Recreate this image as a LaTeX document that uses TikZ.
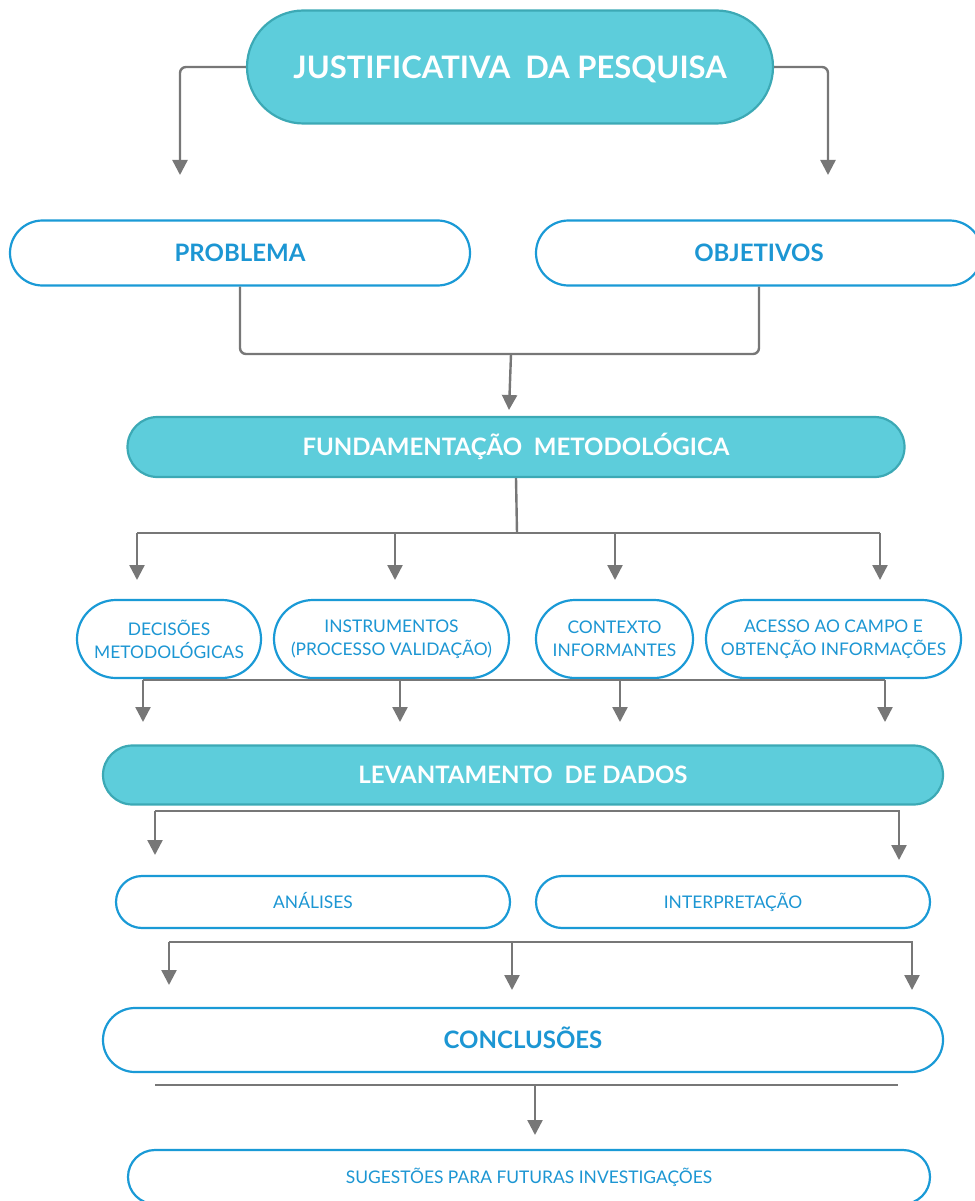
\documentclass[tikz,border=0pt]{standalone}
\usepackage{fontspec}
\setmainfont{Lato}
\usetikzlibrary{shapes.misc,arrows.meta}
\definecolor{tealfill}{HTML}{5DCDDB}
\definecolor{tealline}{HTML}{3CA9B5}
\definecolor{blueline}{HTML}{1A9AD6}
\definecolor{bluetext}{HTML}{1C96D3}
\definecolor{grayline}{HTML}{777777}
\begin{document}
\begin{tikzpicture}[x=1pt, y=-1pt,
    head/.style = {rounded rectangle, draw=tealline, fill=tealfill, line width=2.2pt, text=white, inner sep=0pt},
    box/.style = {rounded rectangle, draw=blueline, fill=white, line width=2.2pt, text=bluetext, inner sep=0pt, align=center},
    one/.style = {text height=#1, text depth=0pt},
    link/.style = {draw=grayline, line width=2.4pt},
    arr/.style = {link, -{Triangle[length=15pt,width=15pt]}}]
    \useasboundingbox (0,0) rectangle (974,1201);
    % top
    \node[head, one=22.2pt, minimum width=526, minimum height=113, font=\fontsize{31}{31}\selectfont\bfseries] (just) at (510,67) {JUSTIFICATIVA\ \ DA PESQUISA};
    \coordinate (pin) at (180,175);
    \coordinate (oin) at (828,175);
    \draw[arr, rounded corners=6] (just.west) -| (pin);
    \draw[arr, rounded corners=6] (just.east) -| (oin);
    % problema / objetivos
    \node[box, one=17.2pt, minimum width=460, minimum height=65, font=\fontsize{24}{24}\selectfont\bfseries] (prob) at (240,253) {PROBLEMA};
    \node[box, one=17.2pt, minimum width=446, minimum height=65, font=\fontsize{24}{24}\selectfont\bfseries] (obj) at (759,253) {OBJETIVOS};
    \coordinate (m1) at (511,354);
    \coordinate (fin) at (509,410);
    \draw[link, rounded corners=6] (prob.south) |- (m1) -| (obj.south);
    \draw[arr] (m1) -- (fin);
    % fundamentacao
    \node[head, one=17.2pt, minimum width=777, minimum height=60, font=\fontsize{24}{24}\selectfont\bfseries] (fund) at (516,447) {FUNDAMENTAÇÃO\ \ METODOLÓGICA};
    \coordinate (b1) at (517,533);
    \coordinate (h1l) at (137,533);
    \coordinate (h1r) at (880,533);
    \draw[link] (fund.south) -- (b1);
    \draw[link] (h1l) -- (h1r);
    \foreach \x [count=\i] in {137,395,615,880} {
        \coordinate (t\i) at (\x,533);
        \coordinate (d\i) at (\x,580);
        \draw[arr] (t\i) -- (d\i);
    }
    % four boxes
    \node[box, minimum width=184, minimum height=78, font=\fontsize{17.4}{23}\selectfont] (dec) at (169,639) {DECISÕES\\METODOLÓGICAS};
    \node[box, minimum width=235, minimum height=78, font=\fontsize{17.4}{23}\selectfont] (ins) at (391.5,639) {INSTRUMENTOS\\(PROCESSO VALIDAÇÃO)};
    \node[box, minimum width=157, minimum height=78, font=\fontsize{17.4}{23}\selectfont] (ctx) at (614.5,639) {CONTEXTO\\INFORMANTES};
    \node[box, minimum width=255, minimum height=78, font=\fontsize{17.4}{23}\selectfont] (acc) at (833.5,639) {ACESSO AO CAMPO E\\OBTENÇÃO INFORMAÇÕES};
    \coordinate (h2l) at (143,680);
    \coordinate (h2r) at (885,680);
    \draw[link] (h2l) -- (h2r);
    \foreach \x [count=\i] in {143,400,620,885} {
        \coordinate (u\i) at (\x,680);
        \coordinate (e\i) at (\x,722);
        \draw[arr] (u\i) -- (e\i);
    }
    % levantamento
    \node[head, one=17.2pt, minimum width=840, minimum height=59, font=\fontsize{24}{24}\selectfont\bfseries] (lev) at (523,775) {LEVANTAMENTO\ \ DE DADOS};
    \coordinate (h3l) at (155,811);
    \coordinate (h3r) at (899,811);
    \coordinate (ain) at (155,855);
    \coordinate (iin) at (899,860);
    \draw[arr] (h3l) -- (h3r) -- (iin);
    \draw[arr] (h3l) -- (ain);
    % analises / interpretacao
    \node[box, one=12.5pt, minimum width=394, minimum height=52, font=\fontsize{17.4}{17.4}\selectfont] (ana) at (313,902) {ANÁLISES};
    \node[box, one=12.5pt, minimum width=394, minimum height=52, font=\fontsize{17.4}{17.4}\selectfont] (int) at (733,902) {INTERPRETAÇÃO};
    \coordinate (h4l) at (169,942);
    \coordinate (h4m) at (512,942);
    \coordinate (h4r) at (912,942);
    \coordinate (c1) at (169,985);
    \coordinate (c2) at (512,990);
    \coordinate (c3) at (912,990);
    \draw[arr] (h4l) -- (h4r) -- (c3);
    \draw[arr] (h4l) -- (c1);
    \draw[arr] (h4m) -- (c2);
    % conclusoes
    \node[box, one=17.2pt, minimum width=840, minimum height=64, font=\fontsize{24}{24}\selectfont\bfseries] (conc) at (523,1040) {CONCLUSÕES};
    \coordinate (h5l) at (155,1085);
    \coordinate (h5m) at (535,1085);
    \coordinate (h5r) at (898,1085);
    \coordinate (sin) at (535,1135);
    \draw[link] (h5l) -- (h5r);
    \draw[arr] (h5m) -- (sin);
    % sugestoes
    \node[box, one=12.5pt, minimum width=802, minimum height=54, font=\fontsize{17.4}{17.4}\selectfont] (sug) at (529,1177) {SUGESTÕES PARA FUTURAS INVESTIGAÇÕES};
\end{tikzpicture}
\end{document}
